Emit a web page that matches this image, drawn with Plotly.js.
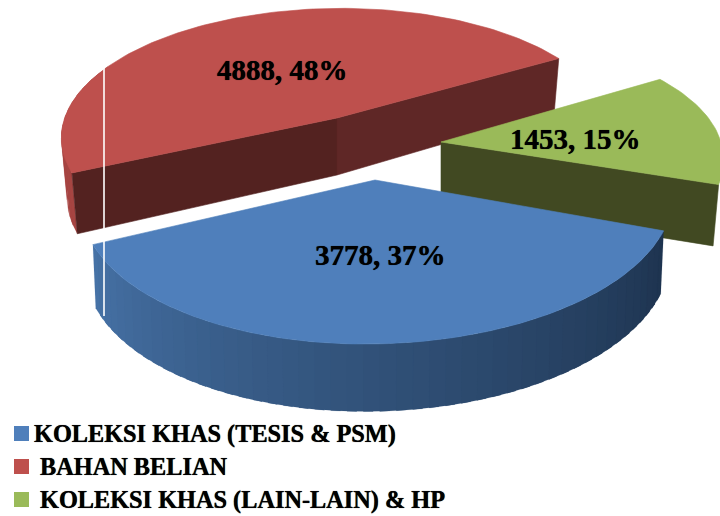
<!DOCTYPE html>
<html><head><meta charset="utf-8">
<script src="https://cdn.plot.ly/plotly-3.0.1.min.js"></script>
<style>html,body{margin:0;padding:0;background:#fff}#c{width:720px;height:516px}</style>
</head><body><div id="c"></div>
<script>
// Data
const categories = ["KOLEKSI KHAS (TESIS & PSM)", "BAHAN BELIAN", "KOLEKSI KHAS (LAIN-LAIN) & HP"];
const values = [3778, 4888, 1453];
const percents = [37, 48, 15];

// Style & view
const startDeg = 112;
const topColors = ["#4f7fbb", "#be504d", "#9aba59"];
const views = [
  {cx:375, cy:180, rx:295, ry:141, k:.14, tilt:5, d:61, sx:.99, sy:1.04, left:.985},
  {cx:337, cy:118, rx:273, ry:125, k:.14, tilt:2, d:57, sx:.98, sy:1.07, left:1},
  {cx:441, cy:142, rx:277, ry:125, k:.2,  tilt:8, d:60, sx:.98, sy:1.03, left:1}
];
const total = values.reduce((a,b)=>a+b,0);
const spans = []; let acc = startDeg;
values.forEach(v => { const e = acc + v/total*360; spans.push([acc,e]); acc = e; });

function pt(view, deg, low){
  const a = deg*Math.PI/180, u = Math.sin(a), v = -Math.cos(a), s = 1/(1-view.k*v);
  return [view.cx + view.rx*u*s*(u<0?view.left:1)*(low?view.sx:1),
          view.cy + (view.ry*v*s - view.tilt*u*s)*(low?view.sy:1) + (low?view.d:0)];
}
function arc(view, a, b, low){
  const out=[], n=Math.max(2,Math.ceil(Math.abs(b-a)/1.5));
  for(let i=0;i<=n;i++) out.push(pt(view, a+(b-a)*i/n, low));
  return out;
}
function poly(points, color, name, lw){
  const closed = points.concat([points[0]]);
  return {type:'scatter', mode:'lines', x:closed.map(p=>p[0]), y:closed.map(p=>p[1]),
    fill:'toself', fillcolor:color, line:{color:color,width:lw||.6}, hoverinfo:'skip', name:name||'', showlegend:false};
}
function hub(view, low){ return [view.cx, view.cy+(low?view.d:0)]; }
function cut(view, deg, color){
  return poly([hub(view,false), pt(view,deg,false), pt(view,deg,true), hub(view,true)], color);
}
function topFace(view, span, color, name){
  return poly([hub(view,false)].concat(arc(view,span[0],span[1],false)), color, name);
}
function wall(view, a, b, color, lw){
  return poly(arc(view,a,b,false).concat(arc(view,b,a,true)), color, '', lw);
}
function mix(c1,c2,f){ return 'rgb('+c1.map((c,i)=>Math.round(c+(c2[i]-c)*f)).join(',')+')'; }

const traces = [];
// red slice: outer wall as overlapping strips
for(let i=0;i<14;i++){
  const a = spans[1][0]+i*3.5;
  traces.push(wall(views[1], a, a+5, "#a64542", .1));
}
traces.push(cut(views[1], spans[1][0], "#532220"));
traces.push(cut(views[1], spans[1][1], "#5f2726"));
traces.push(topFace(views[1], spans[1], topColors[1], categories[1]));
// green slice
traces.push(cut(views[2], spans[2][1], "#414922"));
traces.push(topFace(views[2], spans[2], topColors[2], categories[2]));
// blue slice: wall shaded in strips, each overlapping the next
const strips = 48, stripStart = spans[0][1], stripEnd = spans[0][0];
for(let i=0;i<strips;i++){
  const a = stripStart+(stripEnd-stripStart)*i/strips, b = stripStart+(stripEnd-stripStart)*(i+1.6)/strips;
  traces.push(wall(views[0], a, Math.max(b,stripEnd), mix([70,114,166],[30,52,80],Math.pow(i/(strips-1),.9)), .1));
}
traces.push(topFace(views[0], spans[0], topColors[0], categories[0]));

// data labels
const heavy = '0 0 0.7px #000';
const labelPos = [[380,255],[282,70],[575,139]];
const annotations = values.map((v,i)=>({x:labelPos[i][0], y:labelPos[i][1], text:'<b>'+v+', '+percents[i]+'%</b>',
  showarrow:false, xanchor:'center', yanchor:'middle',
  font:{family:'"Liberation Serif", serif', size:29, color:'#000', shadow:heavy}}));
// legend
const legendY = [433.5,466.5,499.5], legendX = [32,38,38];
categories.forEach((c,i)=>{
  traces.push({type:'scatter', mode:'markers', x:[21.5], y:[legendY[i]], name:c, showlegend:false, hoverinfo:'skip',
    marker:{symbol:'square', size:15, color:topColors[i]}});
  annotations.push({x:legendX[i], y:legendY[i], text:'<b>'+c.replace('&','&amp;')+'</b>', showarrow:false, xanchor:'left', yanchor:'middle',
    font:{family:'"Liberation Serif", serif', size:24.3, color:'#000', shadow:heavy}});
});

const whiteLine = (y0,y1)=>({type:'line', xref:'x', yref:'y', x0:104, x1:104, y0:y0, y1:y1, line:{color:'#fff',width:1.6}, layer:'above'});
Plotly.newPlot('c', traces, {
  width:720, height:516, margin:{l:0,r:0,t:0,b:0}, showlegend:false,
  paper_bgcolor:'#fff', plot_bgcolor:'#fff',
  xaxis:{range:[0,720], visible:false, fixedrange:true},
  yaxis:{range:[516,0], visible:false, fixedrange:true},
  annotations:annotations,
  shapes:[whiteLine(68,229), whiteLine(240,316)]
}, {displayModeBar:false, staticPlot:true});
</script></body></html>
